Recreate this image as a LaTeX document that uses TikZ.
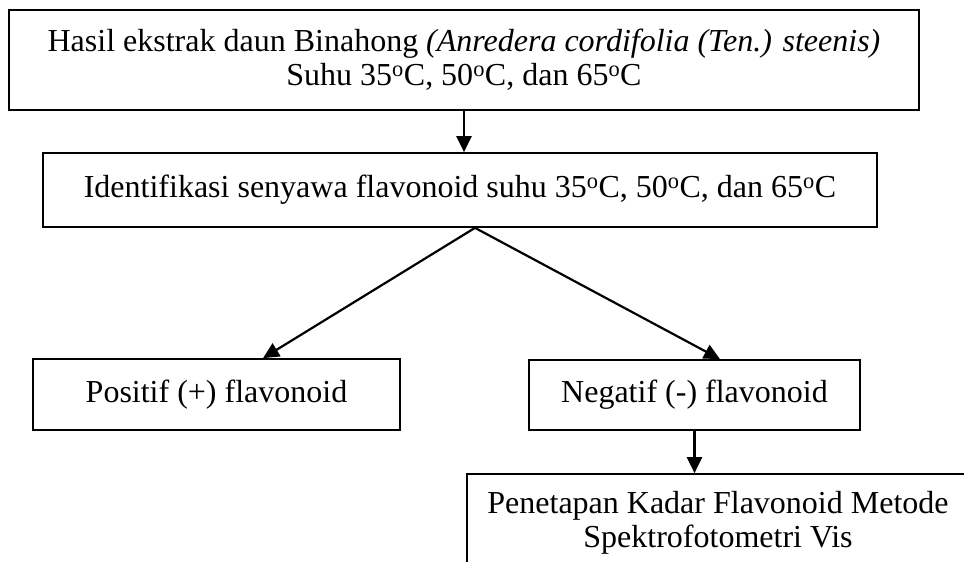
\documentclass[tikz,border=0pt]{standalone}
\usepackage{fontspec}
\setmainfont{Liberation Serif}
\usetikzlibrary{arrows.meta}
\begin{document}
\begin{tikzpicture}[x=1pt,y=-1pt,
    box/.style={draw,line width=1.7pt,align=center,inner sep=0pt,
      font=\fontsize{32}{34}\selectfont},
    flow/.style={line width=2.2pt,-{Triangle[length=16pt,width=15pt]}}]
      \clip (0,0) rectangle (964,562);
      \node[box,minimum width=910,minimum height=100] (hasil) at (464,60)
        {Hasil ekstrak daun Binahong \textit{(Anredera cordifolia (Ten.) steenis)}\\
         Suhu 35\textsuperscript{o}C, 50\textsuperscript{o}C, dan 65\textsuperscript{o}C};
      \node[box,minimum width=834,minimum height=74] (ident) at (460,190)
        {Identifikasi senyawa flavonoid suhu 35\textsuperscript{o}C, 50\textsuperscript{o}C, dan 65\textsuperscript{o}C};
      \node[box,minimum width=367,minimum height=71] (pos) at (216.5,394.5)
        {Positif (+) flavonoid};
      \node[box,minimum width=331,minimum height=70] (neg) at (694.5,395)
        {Negatif (-) flavonoid};
      \node[box,minimum width=502,minimum height=98] (kadar) at (718,523)
        {Penetapan Kadar Flavonoid Metode\\ Spektrofotometri Vis};
      \coordinate (split) at ([xshift=15]ident.south);
      \begin{scope}[flow]
        \draw (hasil.south) -- (hasil.south |- ident.north);
        \draw (split) -- ([xshift=46.5]pos.north);
        \draw (split) -- ([xshift=25.5]neg.north);
        \draw (neg.south) -- (neg.south |- kadar.north);
      \end{scope}
    \end{tikzpicture}
\end{document}
